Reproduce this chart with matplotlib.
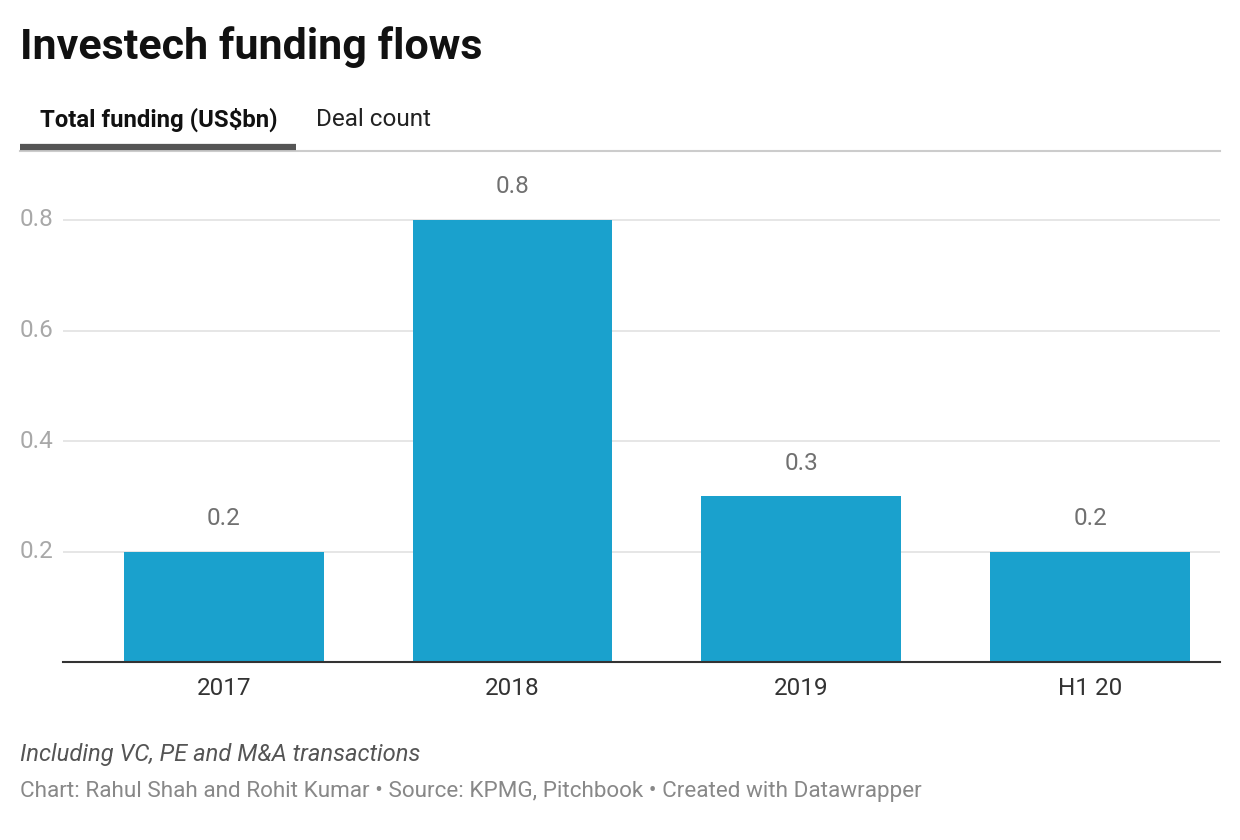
import matplotlib.pyplot as plt
from matplotlib.lines import Line2D

plt.rcParams['font.family'] = ['Roboto', 'DejaVu Sans']

categories = ["2017", "2018", "2019", "H1 20"]
funding = [0.2, 0.8, 0.3, 0.2]
yticks = [0.2, 0.4, 0.6, 0.8]

BAR_COLOR = "#1aa1cd"
W, H = 1240, 840

fig = plt.figure(figsize=(W / 100, H / 100), dpi=100)
fig.patch.set_facecolor("white")

def fx(px):
    return px / W

def fy(py):
    return 1 - py / H

# plot area: x 63..1220, y baseline 662
ymax = 0.88
top_px = 662 - ymax * (662 - 220) / 0.8
ax = fig.add_axes([fx(63), fy(662), fx(1220) - fx(63), fy(top_px) - fy(662)])

x = list(range(len(categories)))
ax.bar(x, funding, width=0.692, color=BAR_COLOR, zorder=3)
ax.set_xlim(-0.557, 3.45)
ax.set_ylim(0, ymax)

for xi, v in zip(x, funding):
    ax.text(xi, v + 0.06, f"{v:.1f}", ha="center", va="center",
            fontsize=17.5, color="#707070")

ax.set_yticks(yticks)
ax.set_yticklabels([])
for t in yticks:
    ax.axhline(t, color="#e2e2e2", linewidth=1.2, zorder=1)
    fig.text(fx(20), ax.transData.transform((0, t))[1] / H, f"{t:.1f}",
             ha="left", va="center", fontsize=17.5, color="#a8a8a8")

ax.set_xticks(x)
ax.set_xticklabels(categories, fontsize=17.5, color="#333333")
ax.tick_params(axis="x", length=0, pad=11)
ax.tick_params(axis="y", length=0)

for s in ["top", "right", "left"]:
    ax.spines[s].set_visible(False)
ax.spines["bottom"].set_color("#333333")
ax.spines["bottom"].set_linewidth(1.5)
ax.spines["bottom"].set_zorder(4)

# title
fig.text(fx(20), fy(47), "Investech funding flows", ha="left", va="center",
         fontsize=31, fontweight="bold", color="#111111")

# tabs
fig.text(fx(40), fy(120), "Total funding (US$bn)", ha="left", va="center",
         fontsize=17.2, fontweight="bold", color="#111111")
fig.text(fx(316), fy(120), "Deal count", ha="left", va="center",
         fontsize=17.5, color="#222222")
fig.add_artist(Line2D([fx(20), fx(1220)], [fy(151), fy(151)],
                      color="#cccccc", linewidth=1.5))
fig.add_artist(Line2D([fx(20), fx(296)], [fy(147), fy(147)],
                      color="#555555", linewidth=4.5, solid_capstyle="butt"))

# footer
fig.text(fx(20), fy(755), "Including VC, PE and M&A transactions", ha="left",
         va="center", fontsize=17.1, style="italic", color="#555555")
fig.text(fx(20), fy(792),
         "Chart: Rahul Shah and Rohit Kumar \u2022 Source: KPMG, Pitchbook \u2022 Created with Datawrapper",
         ha="left", va="center", fontsize=16.2, color="#888888")

fig.savefig("out.png", dpi=100)
